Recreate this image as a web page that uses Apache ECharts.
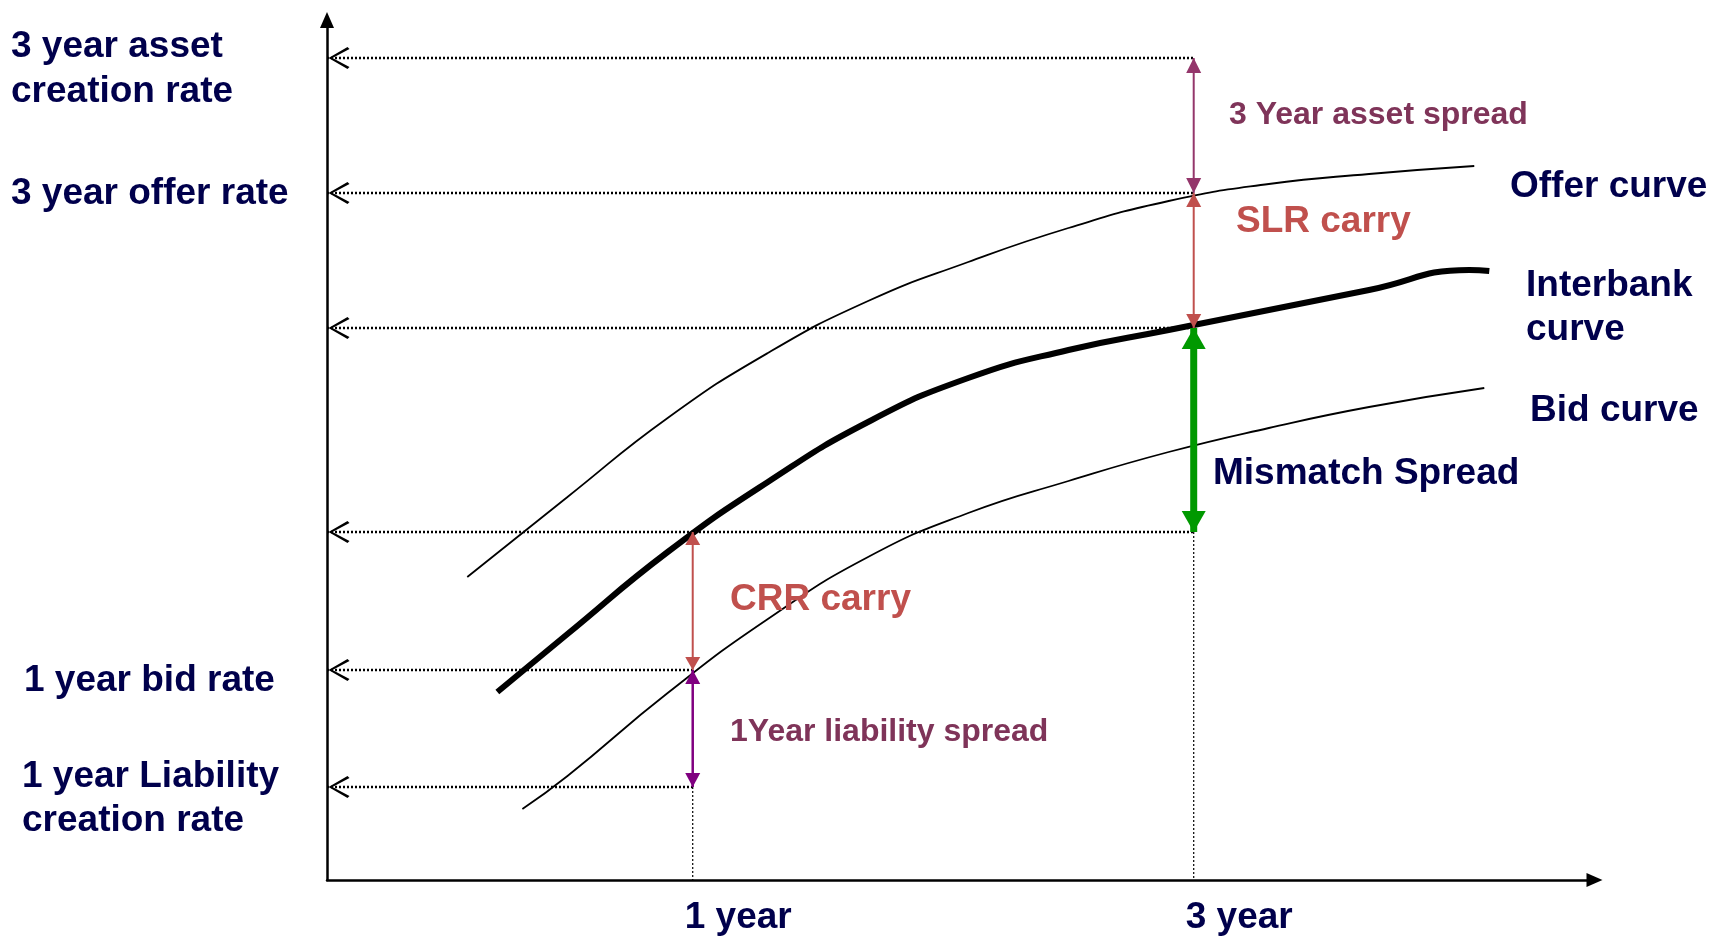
<!DOCTYPE html>
<html>
<head>
<meta charset="utf-8">
<title>Interbank curve: carry and spreads</title>
<script src="https://cdn.jsdelivr.net/npm/echarts@6/dist/echarts.min.js"></script>
<style>
  html, body { margin: 0; padding: 0; background: #fff; }
  #chart { width: 1710px; height: 937px; }
</style>
</head>
<body>
<div id="chart"></div>
<script>
// x = tenor in years, y = rate level (conceptual units)
const offerX = [0.1, 0.5, 0.9, 1.3, 1.7, 2.1, 2.5, 2.9, 3.3, 3.7, 4.12]
const offerY = [3.03, 3.83, 4.62, 5.27, 5.79, 6.18, 6.52, 6.79, 6.96, 7.06, 7.14]
const interbankX = [0.22, 0.5, 0.9, 1.3, 1.7, 2.1, 2.5, 2.9, 3.3, 3.7, 4.1, 4.18]
const interbankY = [1.88, 2.46, 3.28, 3.98, 4.58, 5.02, 5.30, 5.50, 5.70, 5.90, 6.10, 6.09]
const bidX = [0.32, 0.5, 0.9, 1.3, 1.7, 2.1, 2.5, 2.9, 3.3, 3.7, 4.16]
const bidY = [0.71, 1.04, 1.87, 2.61, 3.23, 3.67, 3.99, 4.28, 4.52, 4.73, 4.92]

const tenors = [1, 3]
const tenorLabels = ['1 year', '3 year']

// rate levels projected back to the rate axis, and the tenor they come from
const rateNames = ['3 year asset\ncreation rate', '3 year offer rate', '', '', '1 year bid rate', '1 year Liability\ncreation rate']
const rateLevels = [8.22, 6.87, 5.52, 3.48, 2.10, 0.93]
const rateTenors = [3, 3, 3, 3, 1, 1]

// double headed spread arrows
const spreadNames = ['3 Year asset spread', 'SLR carry', 'Mismatch Spread', 'CRR carry', '1Year liability spread']
const spreadTenors = [3, 3, 3, 1, 1]
const spreadFrom = [8.22, 6.87, 5.52, 3.48, 2.10]
const spreadTo = [6.87, 5.52, 3.48, 2.10, 0.93]

// vertical drop lines down to the tenor axis
const dropTenors = [1, 3]
const dropFrom = [0.93, 3.48]

const X_MIN = -0.46
const X_MAX = 4.6
const Y_MAX = 8.6
const FONT = '"Liberation Sans", Arial, sans-serif'
const NAVY = '#00004c'
const RED = '#c0504d'
const MAROON = '#7f3459'

const spreadStyle = [
  { color: '#94366b', width: 2, head: [15, 15] },
  { color: RED, width: 2, head: [15, 14] },
  { color: '#009900', width: 7, head: [24, 21] },
  { color: RED, width: 2, head: [15, 13] },
  { color: '#800080', width: 2.5, head: [15, 14] }
]

const chevron = 'path://M19,0 L21,2 L4,11 L21,20 L19,22 L0,11 Z'

function curve(name, xs, ys, width) {
  return {
    name: name,
    type: 'line',
    data: xs.map((x, i) => [x, ys[i]]),
    smooth: 0.5,
    symbol: 'none',
    lineStyle: { color: '#000', width: width },
    silent: true,
    z: 3
  }
}

const guides = rateLevels.map((r, i) => ({
  type: 'line',
  silent: true,
  z: 2,
  data: [
    { value: [X_MIN, r], symbol: chevron, symbolSize: [21, 22], symbolOffset: [12, 0] },
    { value: [rateTenors[i], r], symbol: 'none' }
  ],
  itemStyle: { color: '#000' },
  lineStyle: { color: '#000', width: 2.5, type: [2, 2] }
}))

const drops = dropTenors.map((t, i) => ({
  type: 'line',
  silent: true,
  z: 2,
  symbol: 'none',
  data: [[t, dropFrom[i]], [t, 0]],
  lineStyle: { color: '#000', width: 1.2, type: [2, 2] }
}))

const arrows = spreadNames.map((name, i) => {
  const s = spreadStyle[i]
  return {
    name: name,
    type: 'line',
    silent: true,
    z: 4,
    data: [
      { value: [spreadTenors[i], spreadFrom[i]], symbol: 'triangle', symbolSize: s.head, symbolOffset: [0, s.head[1] / 2] },
      { value: [spreadTenors[i], spreadTo[i]], symbol: 'triangle', symbolSize: s.head, symbolRotate: 180, symbolOffset: [0, -s.head[1] / 2] }
    ],
    itemStyle: { color: s.color },
    lineStyle: { color: s.color, width: s.width }
  }
})

const chart = echarts.init(document.getElementById('chart'))
const option = {
  animation: false,
  backgroundColor: '#fff',
  grid: { left: 327, right: 115.5, top: 20, bottom: 57, outerBoundsMode: 'none' },
  xAxis: {
    type: 'value',
    min: X_MIN,
    max: X_MAX,
    splitLine: { show: false },
    axisTick: { show: false },
    axisLine: { onZero: false, lineStyle: { color: '#000', width: 2.5 }, symbol: ['none', 'triangle'], symbolSize: [14, 16] },
    axisLabel: { show: false }
  },
  yAxis: {
    type: 'value',
    min: 0,
    max: Y_MAX,
    splitLine: { show: false },
    axisTick: { show: false },
    axisLabel: { show: false },
    axisLine: { onZero: false, lineStyle: { color: '#000', width: 2.5 }, symbol: ['none', 'triangle'], symbolSize: [14, 16] }
  },
  series: [
    ...guides,
    ...drops,
    curve('Offer curve', offerX, offerY, 1.8),
    curve('Interbank curve', interbankX, interbankY, 6),
    curve('Bid curve', bidX, bidY, 1.8),
    ...arrows
  ]
}
chart.setOption(option)

function text(str, x, y, size, color, lineHeight) {
  return {
    type: 'text',
    x: x,
    y: y + 3,
    silent: true,
    z: 10,
    style: {
      text: str,
      fill: color,
      font: 'bold ' + size + 'px ' + FONT,
      align: 'left',
      verticalAlign: 'middle',
      lineHeight: lineHeight || size * 1.2
    }
  }
}

const toPx = v => chart.convertToPixel({ gridIndex: 0 }, v)
const graphics = []

// tenor labels under the time axis, starting just left of each tenor
tenors.forEach((t, i) => {
  const p = toPx([t, 0])
  graphics.push(text(tenorLabels[i], p[0] - 8, p[1] + 35, 37, NAVY))
})

// rate names sit against the rate axis, next to their levels
const rateLabelX = [11, 11, 0, 0, 24, 22]
const rateLabelShift = [8.5, -2, 0, 0, 8, 9]
rateNames.forEach((name, i) => {
  if (!name) return
  const py = toPx([0, rateLevels[i]])[1]
  graphics.push(text(name, rateLabelX[i], py + rateLabelShift[i], 37, NAVY, 44.5))
})

graphics.push(text('Offer curve', 1510, 184, 37, NAVY))
graphics.push(text('Interbank\ncurve', 1526, 305, 37, NAVY, 44.5))
graphics.push(text('Bid curve', 1530, 408, 37, NAVY))
graphics.push(text('Mismatch Spread', 1213, 471, 37, NAVY))
graphics.push(text('3 Year asset spread', 1229, 112, 32, MAROON))
graphics.push(text('SLR carry', 1236, 219, 37, RED))
graphics.push(text('CRR carry', 730, 597, 37, RED))
graphics.push(text('1Year liability spread', 730, 729, 32, MAROON))

chart.setOption({ graphic: graphics })
</script>
</body>
</html>
